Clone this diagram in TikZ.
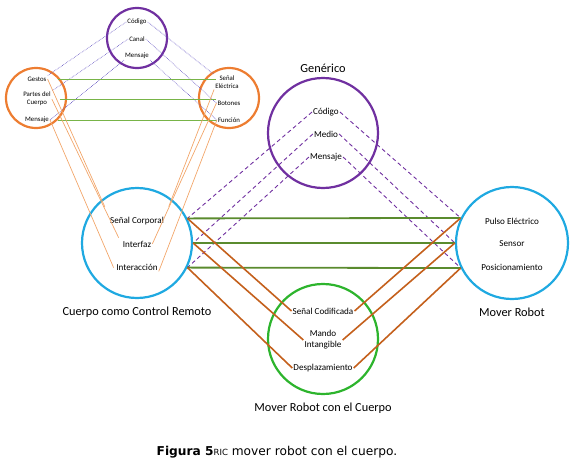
\documentclass[tikz,border=0pt]{standalone}
\usepackage{fontspec}
\setmainfont{Carlito}
\newfontfamily\capfont{DejaVu Sans}
\usetikzlibrary{positioning}

\definecolor{morado}{HTML}{7030A0}
\definecolor{lila}{HTML}{5F4FC0}
\definecolor{naranja}{HTML}{ED7D31}
\definecolor{celeste}{HTML}{1FA9E1}
\definecolor{verde}{HTML}{2DB42D}
\definecolor{oliva}{HTML}{5A8B2E}
\definecolor{pasto}{HTML}{78B448}
\definecolor{cafe}{HTML}{C4601C}
\definecolor{durazno}{HTML}{F2A66A}

\tikzset{
  anillo/.style={circle, line width=2.2pt, inner sep=0pt},
  chico/.style={font=\fontsize{6.8}{7.8}\selectfont, align=center, inner sep=1pt},
  medio/.style={font=\fontsize{9.1}{11}\selectfont, align=center, inner sep=1pt},
  titulo/.style={font=\fontsize{12.3}{14}\selectfont},
  punteada/.style={lila, densely dotted, line width=0.6pt},
  rayada/.style={morado, dash pattern=on 4pt off 3pt, line width=0.9pt},
  verdefino/.style={pasto, line width=0.8pt},
  verdegrueso/.style={oliva, line width=1.8pt},
  naranjafino/.style={durazno, line width=0.7pt},
  naranjagrueso/.style={cafe, line width=1.6pt},
}

\begin{document}
\begin{tikzpicture}[x=1pt,y=-1pt]
    \useasboundingbox (0,0) rectangle (571,463);
    \node[anillo, draw=morado, minimum size=60pt] (canal) at (137,38) {};
    \node[anillo, draw=naranja, minimum size=60pt] (gestos) at (36,98) {};
    \node[anillo, draw=naranja, minimum size=60pt] (senal) at (229,98) {};
    \node[anillo, draw=morado, minimum size=110pt] (generico) at (323,133) {};
    \node[anillo, draw=celeste, minimum size=110pt] (cuerpo) at (137,243) {};
    \node[anillo, draw=celeste, minimum size=112pt] (robot) at (512,243) {};
    \node[anillo, draw=verde, minimum size=110pt] (mando) at (323,339) {};

    \node[chico] (tcod) at (137,22) {Código};
    \node[chico] (tcan) at (137,39) {Canal};
    \node[chico] (tmen) at (137,56) {Mensaje};
    \node[chico] (lges) at (37,79) {Gestos};
    \node[chico] (lpar) at (37,99) {Partes del\\Cuerpo};
    \node[chico] (lmen) at (37,120) {Mensaje};
    \node[chico] (rsen) at (227,82) {Señal\\Eléctrica};
    \node[chico] (rbot) at (229,103) {Botones};
    \node[chico] (rfun) at (229,120) {Función};

    \node[medio] (gcod) at (326,112) {Código};
    \node[medio] (gmed) at (326,134) {Medio};
    \node[medio] (gmen) at (326,157) {Mensaje};
    \node[medio] (cse) at (137,221) {Señal Corporal};
    \node[medio] (cin) at (137,244) {Interfaz};
    \node[medio] (cia) at (137,267) {Interacción};
    \node[medio] (rpu) at (512,221) {Pulso Eléctrico};
    \node[medio] (rse) at (512,244) {Sensor};
    \node[medio] (rpo) at (512,267) {Posicionamiento};
    \node[medio] (vsc) at (323,311) {Señal Codificada};
    \node[medio] (vma) at (323,340) {Mando\\Intangible};
    \node[medio] (vde) at (323,368) {Desplazamiento};

    \node[titulo] (tgen) at (323,68) {Genérico};
    \node[titulo] (tcue) at (137,312) {Cuerpo como Control Remoto};
    \node[titulo] (trob) at (512,312) {Mover Robot};
    \node[titulo] (tman) at (323,408) {Mover Robot con el Cuerpo};
    \node[font=\capfont\fontsize{12.2}{14}\selectfont] (pie) at (277,452)
        {\textbf{Figura 5}{\fontsize{8.5}{10}\selectfont RIC} mover robot con el cuerpo.};

    \draw[punteada] (tcod.west) -- (lges.north east);
    \draw[punteada] (tcan.west) -- (lpar.north east);
    \draw[punteada] (tmen.south west) -- (lmen.east);
    \draw[punteada] (tcod.east) -- (rsen.north west);
    \draw[punteada] (tcan.east) -- (rbot.west);
    \draw[punteada] (tmen.south east) -- (rfun.west);

    \draw[verdefino, shorten <=10pt] (lges.east) -- (lges.east -| rbot.west);
    \draw[verdefino, shorten <=8pt] (lpar.east) -- (lpar.east -| rbot.west);
    \draw[verdefino, shorten <=8pt] (lmen.east) -- (lmen.east -| rfun.west);

    \draw[naranjafino, shorten >=10pt] (lges.east) -- (cse.north west);
    \draw[naranjafino, shorten >=7pt] (lpar.east) -- (cin.west);
    \draw[naranjafino, shorten >=4pt] (lmen.east) -- (cia.south west);
    \draw[naranjafino, shorten >=10pt] (rsen.south west) -- (cse.north east);
    \draw[naranjafino] (rbot.west) -- (cin.east);
    \draw[naranjafino] (rfun.west) -- (cia.south east);

    \draw[rayada] (gcod.west) -- (cuerpo.26);
    \draw[rayada] (gmed.west) -- (cuerpo.0);
    \draw[rayada] (gmen.west) -- (cuerpo.-26);
    \draw[rayada] (gcod.east) -- (robot.154);
    \draw[rayada] (gmed.east) -- (robot.180);
    \draw[rayada] (gmen.east) -- (robot.206);

    \draw[verdegrueso] (cuerpo.26) -- (robot.154);
    \draw[verdegrueso] (cuerpo.0) -- (robot.180);
    \draw[verdegrueso] (cuerpo.-26) -- (robot.206);

    \draw[naranjagrueso] (cuerpo.26) -- (vsc.west);
    \draw[naranjagrueso] (cuerpo.0) -- (vma.west);
    \draw[naranjagrueso] (cuerpo.-26) -- (vde.west);
    \draw[naranjagrueso] (robot.154) -- (vsc.east);
    \draw[naranjagrueso] (robot.180) -- (vma.east);
    \draw[naranjagrueso] (robot.206) -- (vde.east);
\end{tikzpicture}
\end{document}
